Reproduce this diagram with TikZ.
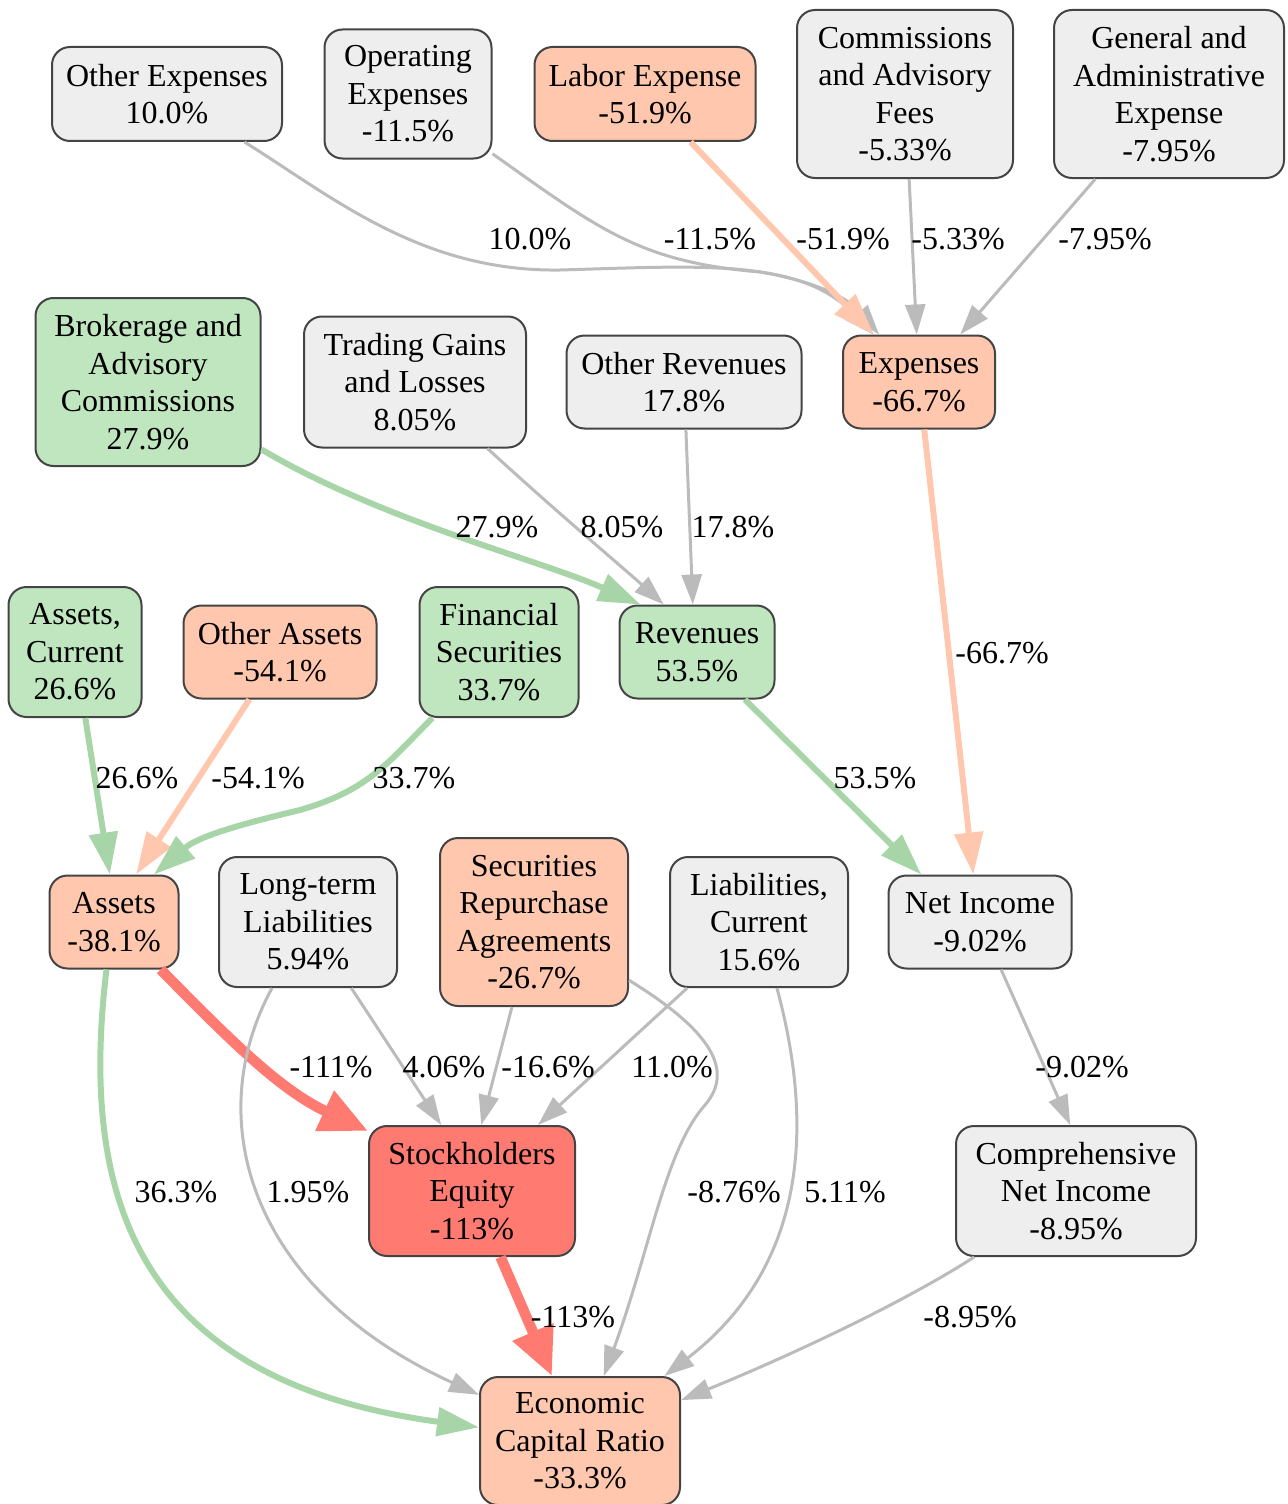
\documentclass[tikz,border=0pt]{standalone}
\usepackage{fontspec}
\setmainfont{Liberation Serif}
\usetikzlibrary{arrows.meta}
\definecolor{gfill}{HTML}{EEEEEE}
\definecolor{grnfill}{HTML}{C0E6C0}
\definecolor{salfill}{HTML}{FFC8AE}
\definecolor{redfill}{HTML}{FF7B72}
\definecolor{bord}{HTML}{444444}
\definecolor{egray}{HTML}{BBBBBB}
\definecolor{egrn}{HTML}{A8D5A8}
\definecolor{esal}{HTML}{FFC8AE}
\definecolor{ered}{HTML}{FF7B72}
\begin{document}
\begin{tikzpicture}[x=0.5pt,y=-0.5pt,
 box/.style={draw=bord, line width=1pt, rounded corners=9pt, align=center, inner sep=0pt, font=\fontsize{16}{18.75}\selectfont},
 gbox/.style={box, fill=gfill},
 grbox/.style={box, fill=grnfill},
 sbox/.style={box, fill=salfill},
 rbox/.style={box, fill=redfill},
 sz/.style 2 args={minimum width=#1*0.5pt, minimum height=#2*0.5pt},
 lbl/.style={inner sep=0pt, font=\fontsize{16}{18.75}\selectfont},
 eg/.style={draw=egray, line width=1.5pt, -{Triangle[length=15pt,width=10pt]}},
 ec/.style={line width=3pt, -{Triangle[length=21pt,width=14pt]}},
 egr/.style={ec, draw=egrn},
 esl/.style={ec, draw=esal},
 ebig/.style={draw=ered, line width=5.25pt, -{Triangle[length=24pt,width=21pt]}}
]
\useasboundingbox (0,0) rectangle (1287,1504);
% nodes
\node[gbox, sz={230}{94}] (oe) at (167,94) {Other Expenses\\10.0\%};
\node[gbox, sz={167}{129}] (opex) at (408,94) {Operating\\Expenses\\-11.5\%};
\node[sbox, sz={221}{94}] (labor) at (645,94) {Labor Expense\\-51.9\%};
\node[gbox, sz={216}{168}] (comm) at (905,94) {Commissions\\and Advisory\\Fees\\-5.33\%};
\node[gbox, sz={230}{168}] (ga) at (1169,94) {General and\\Administrative\\Expense\\-7.95\%};
\node[grbox, sz={225}{168}] (brok) at (148,382) {Brokerage and\\Advisory\\Commissions\\27.9\%};
\node[gbox, sz={222}{131}] (trad) at (415,382) {Trading Gains\\and Losses\\8.05\%};
\node[gbox, sz={235}{93}] (orev) at (684,382) {Other Revenues\\17.8\%};
\node[sbox, sz={152}{93}] (exp) at (919,382) {Expenses\\-66.7\%};
\node[grbox, sz={133}{130}] (ac) at (75,652) {Assets,\\Current\\26.6\%};
\node[sbox, sz={193}{93}] (oa) at (280,652) {Other Assets\\-54.1\%};
\node[grbox, sz={159}{130}] (fs) at (499,652) {Financial\\Securities\\33.7\%};
\node[grbox, sz={155}{93}] (rev) at (697,652) {Revenues\\53.5\%};
\node[sbox, sz={129}{93}] (assets) at (114,922) {Assets\\-38.1\%};
\node[gbox, sz={178}{130}] (lt) at (308,922) {Long-term\\Liabilities\\5.94\%};
\node[sbox, sz={188}{168}] (sra) at (534,922) {Securities\\Repurchase\\Agreements\\-26.7\%};
\node[gbox, sz={178}{130}] (lc) at (759,922) {Liabilities,\\Current\\15.6\%};
\node[gbox, sz={183}{93}] (ni) at (980,922) {Net Income\\-9.02\%};
\node[rbox, sz={206}{130}] (se) at (472,1191) {Stockholders\\Equity\\-113\%};
\node[gbox, sz={240}{130}] (cni) at (1076,1191) {Comprehensive\\Net Income\\-8.95\%};
\node[sbox, sz={200}{128}] (ecr) at (580,1441) {Economic\\Capital Ratio\\-33.3\%};
% edges
\draw[eg] (oe) .. controls (330,195) and (420,272) .. (560,270) .. controls (700,266) and (800,258) .. (exp);
\draw[eg] (opex) .. controls (600,230) and (640,262) .. (760,272) .. controls (820,282) and (850,300) .. (exp);
\draw[esl] (labor) -- (exp);
\draw[eg] (comm) -- (exp);
\draw[eg] (ga) -- (exp);
\draw[egr] (brok) .. controls (380,520) and (540,560) .. (rev.140);
\draw[eg] (trad) .. controls (560,515) and (620,565) .. (rev.125);
\draw[eg] (orev) -- (rev.95);
\draw[esl] (exp) -- (ni.98);
\draw[egr] (rev) -- (ni.141);
\draw[egr] (ac) -- (assets.95);
\draw[esl] (oa) -- (assets.65);
\draw[egr] (fs) .. controls (390,760) and (370,790) .. (300,810) .. controls (250,822) and (200,835) .. (assets.50);
\draw[ebig] (assets) .. controls (230,1040) and (280,1090) .. (se.150);
\draw[eg] (lt) -- (se.115);
\draw[eg] (sra) -- (se.82);
\draw[eg] (lc) -- (se.45);
\draw[eg] (ni) -- (cni.95);
\draw[egr] (assets.-99) .. controls (80,1190) and (130,1380) .. (ecr);
\draw[eg] (lt) .. controls (200,1120) and (250,1290) .. (ecr);
\draw[eg] (sra) .. controls (710,1030) and (735,1070) .. (705,1105) .. controls (665,1150) and (650,1250) .. (ecr);
\draw[eg] (lc) .. controls (810,1110) and (815,1260) .. (ecr);
\draw[ebig] (se) -- (ecr);
\draw[eg] (cni) .. controls (900,1305) and (780,1360) .. (ecr);
% labels
\node[lbl] (l1) at (530,239) {10.0\%};
\node[lbl] (l2) at (710,239) {-11.5\%};
\node[lbl] (l3) at (843,239) {-51.9\%};
\node[lbl] (l4) at (958,239) {-5.33\%};
\node[lbl] (l5) at (1105,239) {-7.95\%};
\node[lbl] (l6) at (497,527) {27.9\%};
\node[lbl] (l7) at (622,527) {8.05\%};
\node[lbl] (l8) at (733,527) {17.8\%};
\node[lbl] (l9) at (1002,653) {-66.7\%};
\node[lbl] (l10) at (875,778) {53.5\%};
\node[lbl] (l11) at (137,778) {26.6\%};
\node[lbl] (l12) at (258,778) {-54.1\%};
\node[lbl] (l13) at (414,778) {33.7\%};
\node[lbl] (l14) at (331,1067) {-111\%};
\node[lbl] (l15) at (444,1067) {4.06\%};
\node[lbl] (l16) at (548,1067) {-16.6\%};
\node[lbl] (l17) at (672,1067) {11.0\%};
\node[lbl] (l18) at (1082,1067) {-9.02\%};
\node[lbl] (l19) at (176,1192) {36.3\%};
\node[lbl] (l20) at (308,1192) {1.95\%};
\node[lbl] (l21) at (734,1192) {-8.76\%};
\node[lbl] (l22) at (845,1192) {5.11\%};
\node[lbl] (l23) at (573,1317) {-113\%};
\node[lbl] (l24) at (970,1317) {-8.95\%};
\end{tikzpicture}
\end{document}
